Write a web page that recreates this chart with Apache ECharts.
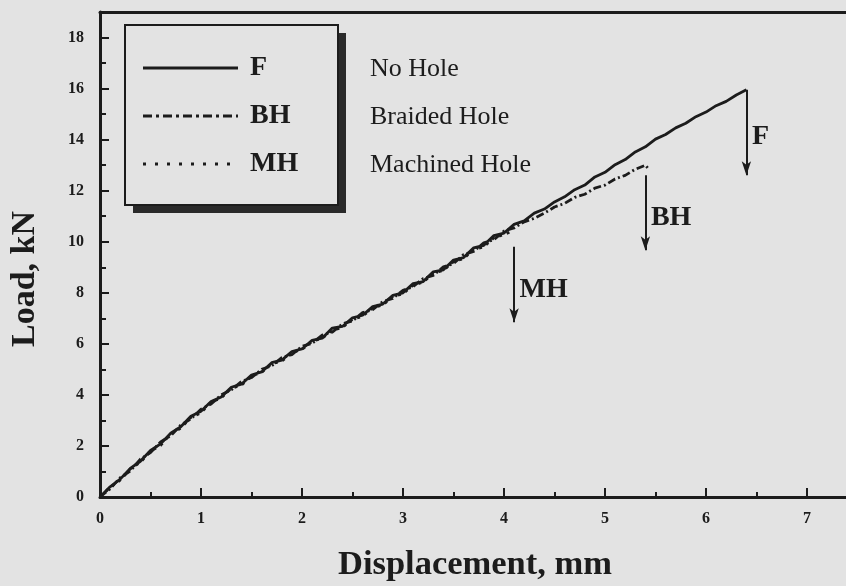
<!DOCTYPE html>
<html><head><meta charset="utf-8">
<script src="https://cdn.jsdelivr.net/npm/echarts@6/dist/echarts.min.js"></script>
<style>html,body{margin:0;padding:0;background:#e3e3e3;}#c{width:846px;height:586px;}</style>
</head><body><div id="c"></div>
<script>
// ---- data ----
const dispF = [0,0.1,0.2,0.3,0.4,0.5,0.6,0.7,0.8,0.9,1.0,1.1,1.2,1.3,1.4,1.5,1.6,1.7,1.8,1.9,2.0,2.1,2.2,2.3,2.4,2.5,2.6,2.7,2.8,2.9,3.0,3.1,3.2,3.3,3.4,3.5,3.6,3.7,3.8,3.9,4.0,4.1,4.2,4.3,4.4,4.5,4.6,4.7,4.8,4.9,5.0,5.1,5.2,5.3,5.4,5.5,5.6,5.7,5.8,5.9,6.0,6.1,6.2,6.3,6.4];
const loadF = [0,0.40,0.70,1.12,1.40,1.82,2.08,2.50,2.75,3.16,3.36,3.74,3.92,4.30,4.42,4.78,4.90,5.26,5.36,5.70,5.80,6.14,6.22,6.62,6.68,7.02,7.12,7.46,7.56,7.90,8.00,8.36,8.44,8.82,8.90,9.28,9.38,9.76,9.86,10.24,10.34,10.68,10.82,11.12,11.28,11.56,11.76,12.04,12.22,12.54,12.72,13.02,13.22,13.52,13.72,14.02,14.20,14.46,14.64,14.90,15.08,15.33,15.50,15.75,15.95];
const dispBH = [0,0.1,0.2,0.3,0.4,0.5,0.6,0.7,0.8,0.9,1.0,1.1,1.2,1.3,1.4,1.5,1.6,1.7,1.8,1.9,2.0,2.1,2.2,2.3,2.4,2.5,2.6,2.7,2.8,2.9,3.0,3.1,3.2,3.3,3.4,3.5,3.6,3.7,3.8,3.9,4.0,4.1,4.2,4.3,4.4,4.5,4.6,4.7,4.8,4.9,5.0,5.1,5.2,5.3,5.4,5.43];
const loadBH = [0,0.32,0.76,1.02,1.48,1.74,2.16,2.40,2.82,3.06,3.44,3.64,4.00,4.20,4.52,4.68,5.00,5.14,5.46,5.58,5.90,6.02,6.34,6.46,6.78,6.90,7.22,7.34,7.66,7.78,8.10,8.24,8.56,8.68,9.02,9.14,9.50,9.62,9.96,10.08,10.42,10.54,10.78,10.92,11.12,11.36,11.50,11.74,11.86,12.10,12.22,12.46,12.60,12.84,13.00,12.85];
const dispMH = [0,0.1,0.2,0.3,0.4,0.5,0.6,0.7,0.8,0.9,1.0,1.1,1.2,1.3,1.4,1.5,1.6,1.7,1.8,1.9,2.0,2.1,2.2,2.3,2.4,2.5,2.6,2.7,2.8,2.9,3.0,3.1,3.2,3.3,3.4,3.5,3.6,3.7,3.8,3.9,4.0,4.08];
const loadMH = [0,0.38,0.66,1.10,1.36,1.80,2.02,2.48,2.70,3.12,3.30,3.72,3.88,4.26,4.38,4.74,4.88,5.22,5.32,5.66,5.78,6.10,6.22,6.54,6.64,6.96,7.08,7.42,7.52,7.86,7.96,8.30,8.42,8.76,8.88,9.22,9.34,9.70,9.80,10.16,10.28,10.42];
// failure arrows and their labels
const arrowNames = ['F','BH','MH'];
const arrowX = [6.4, 5.40, 4.10];
const arrowTop = [15.95, 12.6, 9.8];
const arrowBottom = [12.6, 9.67, 6.85];
const arrowLabelY = [14.1, 10.93, 8.1];
// legend
const seriesCodes = ['F','BH','MH'];
const seriesDescriptions = ['No Hole','Braided Hole','Machined Hole'];
const xTickMin = 0, xTickMax = 8, xTickStep = 1;
const yTickMin = 0, yTickMax = 19, yTickStep = 2;
const xTitle = 'Displacement, mm';
const yTitle = 'Load, kN';

const zip = (a, b) => a.map((v, i) => [v, b[i]]);
const INK = '#1c1c1c';
const BG = '#e3e3e3';
const SERIF = '"Liberation Serif","DejaVu Serif",serif';

const chart = echarts.init(document.getElementById('c'), null, {renderer: 'canvas'});

const gridLeft = 100, gridTop = 12, gridW = 808, gridH = 485;

const legendBox = {x: 125, y: 25, w: 213, h: 180};
const rowY = [68, 116, 164];
const dashes = [null, [9, 4, 3, 4], [3, 9]];

const graphics = [];
graphics.push({type: 'rect', shape: {x: legendBox.x + 8, y: legendBox.y + 8, width: legendBox.w, height: legendBox.h}, style: {fill: '#2a2a2a'}, z: 10});
graphics.push({type: 'rect', shape: {x: legendBox.x, y: legendBox.y, width: legendBox.w, height: legendBox.h}, style: {fill: BG, stroke: INK, lineWidth: 2}, z: 11});
seriesCodes.forEach((code, i) => {
  graphics.push({type: 'line', shape: {x1: 143, y1: rowY[i], x2: 238, y2: rowY[i]}, style: {stroke: INK, lineWidth: 3, lineDash: dashes[i] || null}, z: 12});
  graphics.push({type: 'text', x: 250, y: rowY[i], style: {text: code, font: 'bold 28px ' + SERIF, fill: INK, textVerticalAlign: 'middle', textAlign: 'left'}, z: 12});
  graphics.push({type: 'text', x: 370, y: rowY[i] + 1, style: {text: seriesDescriptions[i], font: '26px ' + SERIF, fill: INK, textVerticalAlign: 'middle', textAlign: 'left'}, z: 12});
});
graphics.push({type: 'text', x: 475, y: 565, style: {text: xTitle, font: 'bold 34.5px ' + SERIF, fill: INK, textAlign: 'center', textVerticalAlign: 'middle'}});
graphics.push({type: 'text', x: 25, y: 279, rotation: Math.PI / 2, style: {text: yTitle, font: 'bold 34px ' + SERIF, fill: INK, textAlign: 'center', textVerticalAlign: 'middle'}});

const lineBase = {type: 'line', showSymbol: false, symbol: 'none', silent: true, z: 3};

chart.setOption({
  backgroundColor: BG,
  animation: false,
  grid: {left: gridLeft, top: gridTop, width: gridW, height: gridH, containLabel: false, outerBoundsMode: 'none'},
  xAxis: [{
    type: 'value', min: xTickMin, max: xTickMax, interval: xTickStep,
    axisLine: {show: true, onZero: false, lineStyle: {color: INK, width: 3}},
    axisTick: {show: true, inside: true, length: 9, lineStyle: {color: INK, width: 2}},
    minorTick: {show: true, splitNumber: 2, length: 5, lineStyle: {color: INK, width: 2}},
    axisLabel: {color: INK, fontFamily: SERIF, fontWeight: 'bold', fontSize: 16, margin: 14},
    splitLine: {show: false}
  }, {
    type: 'value', position: 'top', min: xTickMin, max: xTickMax,
    axisLine: {show: true, onZero: false, lineStyle: {color: INK, width: 3}},
    axisTick: {show: false}, axisLabel: {show: false}, splitLine: {show: false}
  }],
  yAxis: [{
    type: 'value', min: yTickMin, max: yTickMax, interval: yTickStep,
    axisLine: {show: true, onZero: false, lineStyle: {color: INK, width: 3}},
    axisTick: {show: true, inside: true, length: 9, lineStyle: {color: INK, width: 2}},
    axisLabel: {color: INK, fontFamily: SERIF, fontWeight: 'bold', fontSize: 16, margin: 16, showMaxLabel: false},
    splitLine: {show: false}
  }, {
    type: 'value', position: 'left', min: yTickMin, max: yTickMax, interval: 1,
    axisLine: {show: false},
    axisTick: {show: true, inside: true, length: 6, lineStyle: {color: INK, width: 2}},
    axisLabel: {show: false}, splitLine: {show: false}
  }],
  series: [
    Object.assign({}, lineBase, {name: 'MH', data: zip(dispMH, loadMH), lineStyle: {color: INK, width: 2.8, type: [3, 5]}}),
    Object.assign({}, lineBase, {name: 'BH', data: zip(dispBH, loadBH), lineStyle: {color: INK, width: 2.8, type: [8, 3, 2, 3]}}),
    Object.assign({}, lineBase, {name: 'F', data: zip(dispF, loadF), lineStyle: {color: INK, width: 2.8}, z: 4}),
    {
      type: 'scatter', name: 'failure', silent: true, symbolSize: 1,
      itemStyle: {color: 'rgba(0,0,0,0)', opacity: 1},
      data: arrowX.map((x, i) => [x, arrowLabelY[i]]),
      label: {show: true, position: 'right', distance: 5, formatter: p => arrowNames[p.dataIndex], color: INK, fontFamily: SERIF, fontWeight: 'bold', fontSize: 28},
      markLine: {
        silent: true, animation: false,
        label: {show: false},
        lineStyle: {color: INK, width: 2, type: 'solid', opacity: 1},
        data: arrowX.map((x, i) => [
          {coord: [x, arrowTop[i]], symbol: 'none'},
          {coord: [x, arrowBottom[i]], symbol: 'arrow', symbolSize: [7, 14]}
        ])
      }
    }
  ],
  graphic: graphics
});
</script></body></html>
